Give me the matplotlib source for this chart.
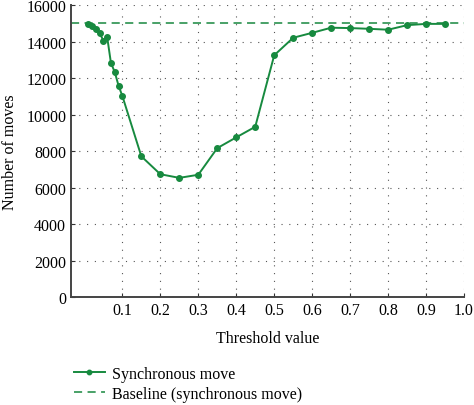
import matplotlib
matplotlib.use("Agg")
import matplotlib.pyplot as plt

thresholds = [0.01, 0.02, 0.03, 0.04, 0.05, 0.06, 0.07, 0.08, 0.09, 0.10,
              0.15, 0.20, 0.25, 0.30, 0.35, 0.40, 0.45, 0.50, 0.55, 0.60,
              0.65, 0.70, 0.75, 0.80, 0.85, 0.90, 0.95]
moves = [14970, 14830, 14700, 14480, 14050, 14250, 12820, 12330, 11580, 11020,
         7710, 6730, 6530, 6700, 8160, 8750, 9330, 13250, 14210, 14480,
         14760, 14740, 14700, 14650, 14900, 14970, 14970]
baseline = 15000
xticks = [0.1, 0.2, 0.3, 0.4, 0.5, 0.6, 0.7, 0.8, 0.9, 1.0]
xticklabels = ["0.1", "0.2", "0.3", "0.4", "0.5", "0.6", "0.7", "0.8", "0.9", "1.0"]
yticks = [0, 2000, 4000, 6000, 8000, 10000, 12000, 14000, 16000]

plt.rcParams['font.family'] = ['Liberation Serif', 'DejaVu Serif']

fig = plt.figure(figsize=(4.74, 4.06), dpi=100)
ax = fig.add_axes([0.150, 0.266, 0.829, 0.719])

green = "#178a3f"
ax.plot(thresholds, moves, color=green, lw=1.4, marker='o', ms=4,
        label="Synchronous move", zorder=3)
ax.axhline(baseline, color="#3a9a5c", lw=1.3, ls=(0, (4.5, 3)),
           label="Baseline (synchronous move)", zorder=2)

ax.set_xlim(-0.035, 1.0)
ax.set_ylim(0, 16000)
ax.set_xticks(xticks)
ax.set_xticklabels(xticklabels)
ax.set_yticks(yticks)
ax.tick_params(axis='both', direction='in', labelsize=11.5, color='#333333',
               length=3, width=0.8)
ax.grid(True, which='major', color='#555555', ls=(0, (1, 6)), lw=0.8)

for s in ['top', 'right']:
    ax.spines[s].set_visible(False)
for s in ['left', 'bottom']:
    ax.spines[s].set_color('#444444')
    ax.spines[s].set_linewidth(1.4)

ax.set_xlabel("Threshold value", fontsize=11.5, labelpad=9)
ax.set_ylabel("Number of moves", fontsize=11.5, labelpad=6)

fig.legend(loc='upper left', bbox_to_anchor=(0.143, 0.112), frameon=False,
           fontsize=11.5, handlelength=1.9, handletextpad=0.45, labelspacing=0.25,
           markerscale=0.8, borderaxespad=0)

fig.savefig("out.png", dpi=100)
